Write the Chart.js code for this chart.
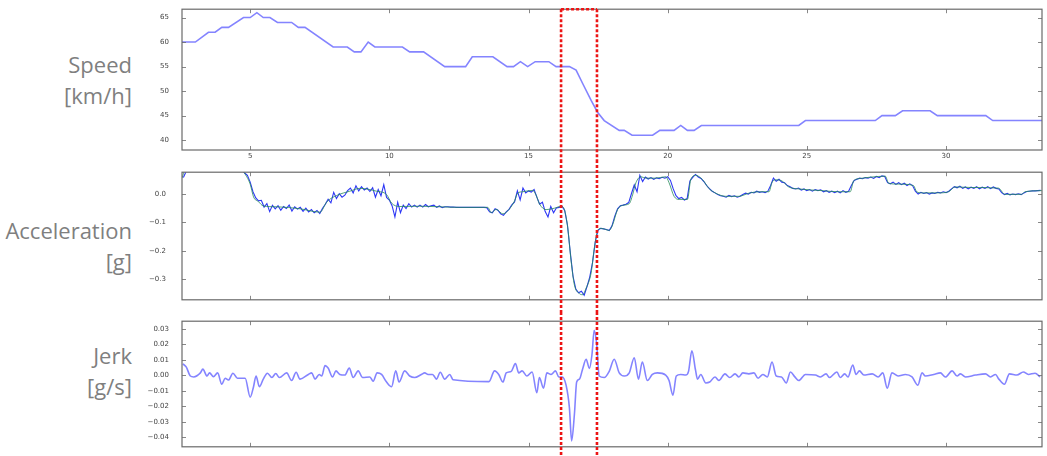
<!DOCTYPE html>
<html>
<head>
<meta charset="utf-8">
<script src="https://cdn.jsdelivr.net/npm/chart.js@4.4.1/dist/chart.umd.min.js"></script>
<style>
    body { margin: 0; width: 1047px; height: 456px; overflow: hidden; position: relative; background: #fff; font-family: "Open Sans", sans-serif; }
    .panel { position: absolute; left: 0; width: 1047px; }
    .lbl { position: absolute; right: 915px; text-align: right; color: #7f7f7f; font-size: 22px; line-height: 31px; white-space: nowrap; }
</style>
</head>
<body>
<div class="lbl" style="top:49px">Speed<br>[km/h]</div>
<div class="lbl" style="top:215px">Acceleration<br>[g]</div>
<div class="lbl" style="top:340px">Jerk<br>[g/s]</div>

<div class="panel" style="top:0;height:160px"><canvas id="speed"></canvas></div>
<div class="panel" style="top:160px;height:152px"><canvas id="accel"></canvas></div>
<div class="panel" style="top:312px;height:144px"><canvas id="jerk"></canvas></div>

<script>
// x axis (time, s)
const xMin = 2.55
const xMax = 33.45
const xTicks = [5, 10, 15, 20, 25, 30]

// highlighted braking window
const boxStart = 16.17
const boxEnd = 17.46

// speed [km/h]
const speedT = [2.55, 3.03, 3.5, 3.74, 3.98, 4.22, 4.76, 5.0, 5.24, 5.47, 5.71, 5.98, 6.49, 6.73, 6.97, 7.98, 8.49, 8.74, 8.98, 9.24,
    9.48, 10.47, 10.73, 11.23, 11.99, 12.74, 12.98, 13.72, 14.23, 14.46, 14.71, 14.97, 15.24, 15.73, 15.99, 16.47, 16.71, 16.95, 17.25, 17.48,
    17.72, 18.26, 18.44, 18.72, 19.46, 19.72, 20.23, 20.47, 20.71, 20.95, 21.21, 24.71, 24.95, 27.46, 27.70, 28.18, 28.44, 29.43, 29.69, 31.43,
    31.68, 33.45]
const speedV = [60, 60, 62, 62, 63, 63, 65, 65, 66, 65, 65, 64, 64, 63, 63, 59, 59, 58, 58, 60,
    59, 59, 58, 58, 55, 55, 57, 57, 55, 55, 56, 55, 56, 56, 55, 55, 54.3, 51.5, 48.1, 45.7,
    44.0, 42, 42, 41, 41, 42, 42, 43, 42, 42, 43, 43, 44, 44, 45, 45, 46, 46, 45, 45,
    44, 44]
const speedTicks = [40, 45, 50, 55, 60, 65]

// acceleration [g], raw signal sampled every 0.1 s from 2.6 s
const accelRawT0 = 2.6
const accelRawDt = 0.1
const accelRaw = [
    0.058, 0.08, 0.095, 0.1, 0.1, 0.1, 0.1, 0.1, 0.1, 0.1,
    0.1, 0.1, 0.1, 0.1, 0.1, 0.1, 0.1, 0.1, 0.1, 0.1,
    0.095, 0.086, 0.074, 0.066, 0.042, 0.008, -0.014, -0.024, -0.022, -0.046,
    -0.034, -0.062, -0.04, -0.052, -0.041, -0.057, -0.044, -0.051, -0.039, -0.06,
    -0.045, -0.053, -0.047, -0.061, -0.05, -0.063, -0.055, -0.066, -0.058, -0.069,
    -0.05, -0.036, -0.018, -0.031, 0.006, -0.016, 0.001, -0.011, -0.004, 0.012,
    0.021, 0.004, 0.029, 0.011, 0.026, 0.014, 0.021, 0.009, 0.022, -0.011,
    0.016, -0.006, 0.033, -0.012, -0.021, -0.042, -0.081, -0.029, -0.066, -0.039,
    -0.051, -0.034, -0.046, -0.039, -0.046, -0.039, -0.046, -0.037, -0.045, -0.041,
    -0.039, -0.047, -0.042, -0.048, -0.045, -0.045, -0.046, -0.046, -0.047, -0.047,
    -0.047, -0.047, -0.047, -0.047, -0.047, -0.047, -0.047, -0.047, -0.047, -0.048,
    -0.063, -0.066, -0.052, -0.057, -0.07, -0.075, -0.063, -0.054, -0.038, -0.028,
    0.011, -0.021, 0.021, 0.004, 0.011, 0.007, 0.016, -0.011, -0.036, -0.029,
    -0.062, -0.081, -0.044, -0.066, -0.049, -0.047, -0.043, -0.058, -0.11, -0.205,
    -0.29, -0.335, -0.348, -0.343, -0.357, -0.327, -0.293, -0.242, -0.168, -0.127,
    -0.121, -0.123, -0.125, -0.129, -0.112, -0.078, -0.052, -0.041, -0.039, -0.036,
    -0.03, 0.002, 0.032, 0.008, 0.066, 0.044, 0.06, 0.053, 0.058, 0.052,
    0.057, 0.054, 0.059, 0.056, 0.061, 0.048, 0.018, -0.006, -0.016, -0.012,
    -0.021, -0.016, 0.046, 0.059, 0.069, 0.06, 0.055, 0.044, 0.03, 0.019,
    0.01, 0.004, -0.002, -0.006, -0.008, -0.011, -0.005, -0.009, -0.006, -0.011,
    -0.008, -0.002, 0.003, 0.0, 0.006, 0.004, 0.01, 0.006, 0.008, 0.005,
    0.01, 0.03, 0.056, 0.045, 0.052, 0.042, 0.04, 0.03, 0.026, 0.02,
    0.018, 0.021, 0.014, 0.018, 0.012, 0.016, 0.01, 0.016, 0.012, 0.015,
    0.008, 0.012, 0.006, 0.01, 0.005, 0.01, 0.004, 0.012, 0.006, 0.01,
    0.03, 0.048, 0.052, 0.056, 0.054, 0.058, 0.056, 0.06, 0.055, 0.062,
    0.058, 0.064, 0.062, 0.04, 0.036, 0.042, 0.034, 0.04, 0.033, 0.038,
    0.03, 0.036, 0.03, 0.01, 0.0, 0.006, 0.002, 0.005, 0.0, 0.004,
    0.002, 0.006, 0.004, 0.008, 0.005, 0.01, 0.018, 0.026, 0.022, 0.028,
    0.02, 0.025, 0.018, 0.024, 0.02, 0.026, 0.018, 0.024, 0.02, 0.026,
    0.019, 0.025, 0.02, 0.018, 0.005, -0.002, 0.002, -0.003, 0.0, -0.002,
    0.001, -0.002, 0.004, 0.009, 0.01, 0.011, 0.011, 0.012, 0.013]

// acceleration [g], filtered
const accelFiltT = [2.55, 2.65, 2.8, 4.6, 4.82, 5.0, 5.12, 5.30, 5.47, 5.95, 6.79, 7.51, 7.75, 8.11, 8.58, 8.94, 9.54, 9.90, 10.08, 10.37,
    11.09, 11.81, 12.52, 13.54, 13.66, 13.84, 14.08, 14.32, 14.50, 14.61, 14.79, 15.15, 15.27, 15.39, 15.63, 15.93, 16.17, 16.29, 16.41, 16.53,
    16.65, 16.83, 16.94, 17.07, 17.25, 17.36, 17.48, 17.60, 17.90, 18.02, 18.20, 18.38, 18.62, 18.74, 18.86, 19.04, 19.22, 19.57, 19.93, 20.05,
    20.23, 20.41, 20.71, 20.83, 21.01, 21.25, 21.49, 21.73, 22.08, 22.56, 22.92, 23.28, 23.64, 23.75, 23.87, 24.11, 24.35, 24.71, 25.55, 26.14,
    26.56, 26.68, 26.92, 27.58, 27.82, 27.94, 28.30, 28.83, 28.95, 29.13, 29.73, 30.09, 30.33, 30.92, 31.88, 32.12, 32.72, 32.84, 33.45]
const accelFiltV = [0.056, 0.085, 0.1, 0.1, 0.07, 0.035, -0.01, -0.027, -0.042, -0.045, -0.052, -0.064, -0.028, -0.005, 0.010, 0.020, 0.010, -0.002, -0.032, -0.044,
    -0.043, -0.045, -0.047, -0.047, -0.066, -0.054, -0.07, -0.052, -0.024, 0.003, 0.008, 0.013, -0.003, -0.034, -0.055, -0.05, -0.043, -0.055, -0.119, -0.236,
    -0.321, -0.351, -0.355, -0.332, -0.278, -0.194, -0.130, -0.121, -0.128, -0.109, -0.055, -0.040, -0.034, -0.003, 0.040, 0.061, 0.056, 0.056, 0.061, 0.040,
    -0.008, -0.019, -0.019, 0.051, 0.066, 0.051, 0.019, 0.003, -0.008, -0.008, 0.003, 0.008, 0.008, 0.041, 0.050, 0.046, 0.025, 0.018, 0.012, 0.008,
    0.008, 0.046, 0.055, 0.062, 0.063, 0.038, 0.035, 0.030, 0.008, 0.004, 0.004, 0.008, 0.025, 0.023, 0.021, -0.001, -0.001, 0.008, 0.012]
const accelTicks = [-0.3, -0.2, -0.1, 0.0]

// jerk [g/s]
const jerkT = [2.58, 2.70, 2.85, 2.97, 3.21, 3.30, 3.45, 3.54, 3.68, 3.83, 3.98, 4.10, 4.22, 4.38, 4.54, 4.82, 5.00, 5.12, 5.21, 5.33,
    5.47, 5.62, 5.78, 5.92, 6.05, 6.31, 6.49, 6.65, 6.79, 7.09, 7.21, 7.33, 7.48, 7.57, 7.69, 7.80, 7.96, 8.08, 8.22, 8.40,
    8.56, 8.70, 8.88, 9.04, 9.30, 9.42, 9.56, 9.72, 9.90, 10.08, 10.23, 10.35, 10.55, 10.73, 10.91, 11.15, 11.27, 11.39, 11.55, 11.63,
    11.69, 11.83, 11.99, 12.17, 12.29, 13.58, 13.78, 13.93, 14.08, 14.20, 14.38, 14.53, 14.65, 14.77, 14.94, 15.13, 15.30, 15.39, 15.54, 15.66,
    15.81, 15.97, 16.09, 16.21, 16.35, 16.47, 16.55, 16.65, 16.73, 16.83, 16.95, 17.07, 17.19, 17.28, 17.36, 17.45, 17.54, 17.72, 17.90, 18.08,
    18.26, 18.44, 18.62, 18.80, 18.95, 19.09, 19.27, 19.45, 19.63, 19.93, 20.05, 20.19, 20.31, 20.47, 20.65, 20.75, 20.87, 21.00, 21.07, 21.19,
    21.37, 21.51, 21.70, 21.84, 22.06, 22.23, 22.42, 22.56, 22.70, 22.92, 23.10, 23.25, 23.42, 23.58, 23.75, 23.90, 24.09, 24.26, 24.41, 24.57,
    24.71, 24.95, 25.31, 25.49, 25.69, 25.81, 26.08, 26.20, 26.36, 26.48, 26.65, 26.77, 26.89, 27.05, 27.35, 27.56, 27.73, 27.89, 28.06, 28.28,
    28.54, 28.78, 28.99, 29.14, 29.26, 29.56, 29.80, 29.98, 30.22, 30.40, 30.52, 30.70, 31.06, 31.42, 31.60, 31.78, 31.90, 32.10, 32.28, 32.55,
    32.78, 32.96, 33.20, 33.38]
const jerkV = [0.0074, 0.0055, -0.0004, -0.001, 0.0016, 0.004, -0.0004, 0.0016, -0.0008, 0.0016, -0.0057, -0.0018, -0.003, 0.0014, -0.0018, -0.0018, -0.014, -0.0073, -0.0004, -0.0073,
    -0.0024, 0.0014, -0.0014, 0.0012, -0.0014, 0.0016, -0.0033, 0.002, -0.0024, 0.0006, 0.0016, -0.0024, 0.0006, -0.0004, 0.0063, 0.0047, -0.001, 0.0029, 0.0006, 0.0002,
    0.0047, -0.0014, 0.0029, -0.0014, -0.001, -0.0037, 0.0016, 0.0006, -0.0043, -0.0073, 0.0029, -0.0043, 0.0029, -0.0004, -0.0014, 0.0006, 0.0016, 0.0006, 0.0006, -0.001,
    -0.0024, 0.002, -0.0024, 0.0006, -0.0028, -0.004, 0.0029, 0.0006, -0.0043, 0.0016, 0.0026, 0.0076, 0.0016, 0.0029, -0.0004, 0.0022, -0.0112, -0.0014, -0.0082, 0.0016,
    0.0006, 0.0029, -0.001, -0.001, -0.0063, -0.0209, -0.0422, -0.0249, -0.0043, -0.0024, 0.0045, 0.0104, 0.0045, 0.0133, 0.029, 0.0202, -0.0004, -0.0014, 0.0026, 0.0104,
    0.0016, -0.0004, 0.0016, 0.0114, -0.0024, 0.0086, -0.0033, 0.0006, 0.0016, 0.0002, -0.0033, -0.0127, -0.0004, 0.0006, 0.0002, 0.0026, 0.0159, 0.0035, -0.0024, 0.0006,
    -0.0049, -0.0043, -0.001, -0.0033, 0.001, -0.0014, 0.001, -0.001, 0.0016, 0.001, 0.0016, -0.0018, 0.0006, -0.001, 0.0086, -0.0004, -0.001, -0.0049, 0.0022, -0.001,
    -0.0033, 0.0006, 0.0002, -0.001, 0.001, -0.0014, 0.0022, -0.0014, 0.001, -0.001, 0.0067, 0.0006, 0.0029, 0.0002, 0.001, -0.001, 0.0016, -0.0082, 0.0016, -0.0004,
    0.0006, -0.001, -0.0063, 0.0016, -0.0004, 0.0006, 0.0016, -0.001, 0.0029, -0.0004, 0.001, -0.001, 0.0002, 0.001, -0.001, 0.0006, -0.0024, -0.0057, 0.001, 0.0002,
    0.0022, 0.0006, 0.0014, -0.001]
const jerkTicks = [-0.04, -0.03, -0.02, -0.01, 0.00, 0.01, 0.02, 0.03]

Chart.defaults.font.family = 'DejaVu Sans'
Chart.defaults.font.size = 7
Chart.defaults.color = '#444'

function zip(xs, ys) {
    return xs.map((x, i) => ({x: x, y: ys[i]}))
}

// matplotlib style minus sign
function fmt(v, digits) {
    let s = Math.abs(v).toFixed(digits)
    return v < -1e-9 ? '\u2212' + s : s
}

// box + inward ticks like the old matplotlib style
const framePlugin = {
    id: 'frame',
    afterDraw(chart, args, opts) {
        const {ctx, chartArea: a, scales} = chart
        ctx.save()
        ctx.strokeStyle = '#6a6a6a'
        ctx.lineWidth = 1.2
        ctx.strokeRect(a.left, a.top, a.right - a.left, a.bottom - a.top)
        ctx.beginPath()
        xTicks.forEach(v => {
            const px = Math.round(scales.x.getPixelForValue(v)) + 0.5
            ctx.moveTo(px, a.top); ctx.lineTo(px, a.top + 4)
            ctx.moveTo(px, a.bottom); ctx.lineTo(px, a.bottom - 4)
        })
        scales.y.ticks.forEach(t => {
            const py = Math.round(scales.y.getPixelForValue(t.value)) + 0.5
            ctx.moveTo(a.left, py); ctx.lineTo(a.left + 4, py)
            ctx.moveTo(a.right, py); ctx.lineTo(a.right - 4, py)
        })
        ctx.lineWidth = 0.8
        ctx.stroke()
        // x labels only under the top panel
        if (opts.xLabels) {
            ctx.fillStyle = '#444'
            ctx.font = '7px "DejaVu Sans"'
            ctx.textAlign = 'center'
            ctx.textBaseline = 'middle'
            xTicks.forEach(v => {
                ctx.fillText(String(v), scales.x.getPixelForValue(v), a.bottom + 6)
            })
        }
        ctx.restore()
    }
}

// red dotted window, runs through all three panels
const boxPlugin = {
    id: 'redBox',
    afterDraw(chart, args, opts) {
        const {ctx, chartArea: a, scales} = chart
        const x1 = scales.x.getPixelForValue(boxStart)
        const x2 = scales.x.getPixelForValue(boxEnd)
        const top = opts.first ? a.top : 0
        ctx.save()
        ctx.strokeStyle = 'rgb(236,20,20)'
        ctx.lineWidth = 2.6
        ctx.setLineDash([3, 2])
        ctx.beginPath()
        if (opts.first) {
            ctx.moveTo(x1, top); ctx.lineTo(x2, top)
        }
        ctx.moveTo(x1, top); ctx.lineTo(x1, chart.height)
        ctx.moveTo(x2, top); ctx.lineTo(x2, chart.height)
        ctx.stroke()
        ctx.restore()
    }
}

function makePanel(id, datasets, cfg) {
    return new Chart(document.getElementById(id), {
        type: 'line',
        data: {datasets: datasets},
        options: {
            responsive: true,
            maintainAspectRatio: false,
            animation: false,
            events: [],
            layout: {padding: {top: cfg.padTop, right: 5, left: 0, bottom: cfg.padBottom}},
            plugins: {
                legend: {display: false},
                tooltip: {enabled: false},
                frame: {xLabels: cfg.first},
                redBox: {first: cfg.first}
            },
            elements: {point: {radius: 0}},
            scales: {
                x: {
                    type: 'linear',
                    display: false,
                    min: xMin,
                    max: xMax
                },
                y: {
                    min: cfg.yMin,
                    max: cfg.yMax,
                    grid: {display: false},
                    border: {display: false},
                    afterBuildTicks: s => { s.ticks = cfg.yTicks.map(v => ({value: v})) },
                    ticks: {padding: cfg.yPad, callback: v => fmt(v, cfg.digits)},
                    afterFit: s => { s.width = 182 }
                }
            }
        },
        plugins: [framePlugin, boxPlugin]
    })
}

const accelRawPts = accelRaw.map((v, i) => ({x: accelRawT0 + i * accelRawDt, y: v}))

makePanel('speed', [{
    data: zip(speedT, speedV),
    borderColor: 'rgba(110,110,255,0.85)',
    borderWidth: 1.6,
    tension: 0
}], {padTop: 9, padBottom: 10, yMin: 38, yMax: 66.7, yTicks: speedTicks, digits: 0, yPad: 5, first: true})

makePanel('accel', [{
    data: zip(accelFiltT, accelFiltV),
    borderColor: 'rgba(40,140,90,0.8)',
    borderWidth: 1,
    cubicInterpolationMode: 'monotone',
    order: 0
}, {
    data: accelRawPts,
    borderColor: 'rgb(45,55,245)',
    borderWidth: 1.1,
    tension: 0,
    order: 1
}], {padTop: 6.7, padBottom: 3.7, yMin: -0.373, yMax: 0.077, yTicks: accelTicks, digits: 1, yPad: 8, first: false})

makePanel('jerk', [{
    data: zip(jerkT, jerkV),
    borderColor: 'rgba(110,110,255,0.85)',
    borderWidth: 1.6,
    cubicInterpolationMode: 'monotone'
}], {padTop: 3, padBottom: 1, yMin: -0.046, yMax: 0.0349, yTicks: jerkTicks, digits: 2, yPad: 5, first: false})
</script>
</body>
</html>
